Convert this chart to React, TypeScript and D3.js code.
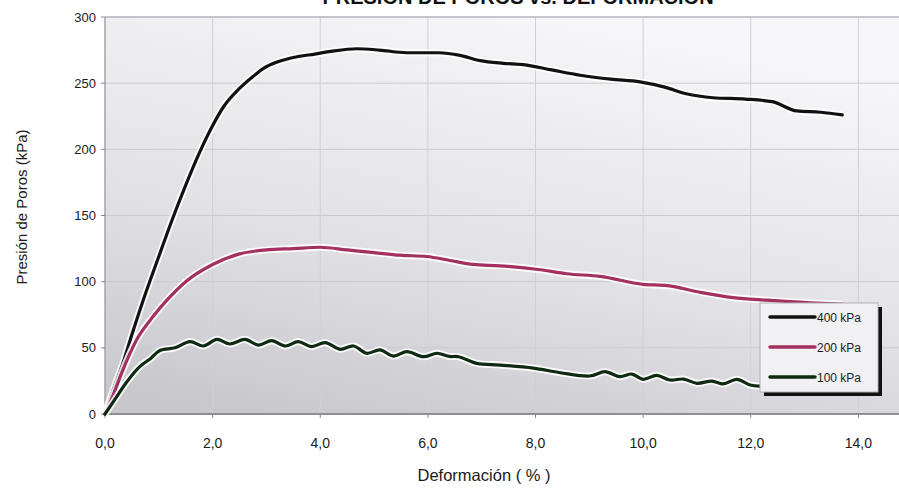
import React from "react";
import * as d3 from "d3";

const xTicks = [0, 2, 4, 6, 8, 10, 12, 14];
const yTicks = [0, 50, 100, 150, 200, 250, 300];

const x400 = [0, 0.15, 0.33, 0.5, 0.71, 1.0, 1.25, 1.5, 1.75, 1.95, 2.2, 2.5, 2.75, 2.94, 3.2, 3.57, 3.9, 4.2, 4.68, 5.1, 5.6, 6.2, 6.6, 6.97, 7.4, 7.77, 8.3, 8.83, 9.4, 9.94, 10.4, 10.8, 11.3, 11.9, 12.4, 12.86, 13.3, 13.7];
const v400 = [0, 18, 38, 60, 86, 119, 147, 173, 197, 214, 232, 246, 255, 261, 266, 270, 272, 274, 276, 275, 273, 273, 271, 267, 265, 264, 260, 256, 253, 251, 247, 242, 239, 238, 236, 229, 228, 226];

const x200 = [0, 0.15, 0.3, 0.6, 0.9, 1.15, 1.5, 2.0, 2.5, 3.0, 3.5, 4.0, 4.5, 5.0, 5.48, 5.98, 6.41, 6.84, 7.34, 8.09, 8.58, 9.2, 10.0, 10.45, 11.06, 11.67, 12.3, 13.1, 13.7];
const v200 = [0, 14, 30, 57, 74, 86, 100, 113, 121, 124, 125, 126, 124, 122, 120, 119, 116, 113, 112, 109, 106, 104, 98, 97, 92, 88, 86, 84, 83];

const x100 = [0, 0.2, 0.4, 0.65, 0.85, 1.02, 1.3, 1.58, 1.83, 2.08, 2.32, 2.6, 2.85, 3.1, 3.35, 3.59, 3.84, 4.09, 4.37, 4.62, 4.86, 5.11, 5.36, 5.61, 5.92, 6.17, 6.4, 6.57, 6.91, 7.34, 7.96, 8.46, 9.01, 9.29, 9.57, 9.79, 10.0, 10.25, 10.5, 10.75, 11.0, 11.28, 11.49, 11.74, 11.99, 12.2, 12.6, 13.0, 13.4, 13.7];
const v100 = [0, 12, 24, 36, 42, 48, 50, 54.7, 51.4, 56.4, 52.9, 56.4, 52.1, 55.4, 51.4, 54.7, 50.9, 53.9, 48.9, 51.4, 45.9, 48.4, 43.8, 47.1, 43.3, 45.9, 43.5, 43.3, 38.3, 37, 34.7, 31.2, 28.7, 32, 28.2, 30.2, 26.2, 29.2, 25.7, 26.4, 23.2, 24.9, 22.7, 26.2, 21.9, 21, 21, 20, 20, 19];

const seriesNames = ["400 kPa", "200 kPa", "100 kPa"];
const seriesColors = ["#111111", "#a3305f", "#0f2a12"];

const W = 899;
const H = 488;

export default function App() {
  const x = d3.scaleLinear().domain([0, 16]).range([105, 966]);
  const y = d3.scaleLinear().domain([0, 300]).range([414, 17]);
  const smooth = d3
    .line<[number, number]>()
    .x((d) => x(d[0]))
    .y((d) => y(d[1]))
    .curve(d3.curveMonotoneX);
  const wavy = d3
    .line<[number, number]>()
    .x((d) => x(d[0]))
    .y((d) => y(d[1]))
    .curve(d3.curveCatmullRom.alpha(0.5));

  const series = [
    x400.map((v, i) => [v, v400[i]] as [number, number]),
    x200.map((v, i) => [v, v200[i]] as [number, number]),
    x100.map((v, i) => [v, v100[i]] as [number, number]),
  ];
  const gens = [smooth, smooth, wavy];

  const font = "'Liberation Sans', Arial, sans-serif";
  const left = x(0);
  const top = y(300);
  const bottom = y(0);
  const right = W;

  const lgX = 760, lgY = 303, lgW = 118, lgH = 89;

  return (
    <svg
      width={W}
      height={H}
      style={{ position: "absolute", left: 0, top: 0, background: "#ffffff" }}
      fontFamily={font}
    >
      <defs>
        <linearGradient id="bg" x1="0.15" y1="1" x2="0.55" y2="0">
          <stop offset="0" stopColor="#c8c8cc" />
          <stop offset="0.45" stopColor="#e2e2e6" />
          <stop offset="1" stopColor="#f6f6f8" />
        </linearGradient>
      </defs>
      <text x={518} y={4} textAnchor="middle" fontSize={20} fontWeight="bold" fill="#111">
        PRESIÓN DE POROS vs. DEFORMACIÓN
      </text>
      <rect x={left} y={top} width={right - left} height={bottom - top} fill="url(#bg)" />
      {yTicks.map((t) => (
        <line key={"gy" + t} x1={left} x2={right} y1={y(t)} y2={y(t)} stroke="#c9c9d1" strokeWidth={1} />
      ))}
      {xTicks.map((t) => (
        <line key={"gx" + t} x1={x(t)} x2={x(t)} y1={top} y2={bottom} stroke="#cfcfd7" strokeWidth={1} />
      ))}
      <line x1={left} x2={right} y1={top} y2={top} stroke="#a8a8b0" strokeWidth={1.2} />
      <line x1={left} x2={left} y1={top} y2={bottom} stroke="#9a9aa2" strokeWidth={1.2} />
      <line x1={left} x2={right} y1={bottom} y2={bottom} stroke="#77777e" strokeWidth={1.5} />
      {yTicks.map((t) => (
        <g key={"ty" + t}>
          <line x1={left - 4} x2={left} y1={y(t)} y2={y(t)} stroke="#888" />
          <text x={96} y={y(t) + 4.5} textAnchor="end" fontSize={13} fill="#1a1a1a">
            {t}
          </text>
        </g>
      ))}
      {xTicks.map((t) => (
        <g key={"tx" + t}>
          <line x1={x(t)} x2={x(t)} y1={bottom} y2={bottom + 4} stroke="#888" />
          <text x={x(t)} y={448} textAnchor="middle" fontSize={14} fill="#1a1a1a">
            {t.toFixed(1).replace(".", ",")}
          </text>
        </g>
      ))}
      <text x={484} y={481} textAnchor="middle" fontSize={16.5} fill="#1a1a1a">
        Deformación ( % )
      </text>
      <text
        transform={`translate(27,207) rotate(-90)`}
        textAnchor="middle"
        fontSize={15}
        fill="#1a1a1a"
      >
        Presión de Poros (kPa)
      </text>
      {series.map((s, i) => (
        <g key={"s" + i}>
          <path d={gens[i](s) || ""} fill="none" stroke="#ffffff" strokeOpacity={0.85} strokeWidth={7} strokeLinejoin="round" />
          <path d={gens[i](s) || ""} fill="none" stroke={seriesColors[i]} strokeWidth={3.2} strokeLinejoin="round" strokeLinecap="round" />
        </g>
      ))}
      <rect x={lgX + 4} y={lgY + 4} width={lgW} height={lgH} fill="#111" />
      <rect x={lgX} y={lgY} width={lgW} height={lgH} fill="#f1f1f3" stroke="#b0b0b6" strokeWidth={1} />
      {seriesNames.map((n, i) => (
        <g key={"lg" + i}>
          <line
            x1={770}
            x2={815}
            y1={lgY + 14 + i * 30}
            y2={lgY + 14 + i * 30}
            stroke={seriesColors[i]}
            strokeWidth={3.5}
            strokeLinecap="round"
          />
          <text x={817} y={lgY + 18.5 + i * 30} fontSize={12} fill="#1a1a1a">
            {n}
          </text>
        </g>
      ))}
    </svg>
  );
}
